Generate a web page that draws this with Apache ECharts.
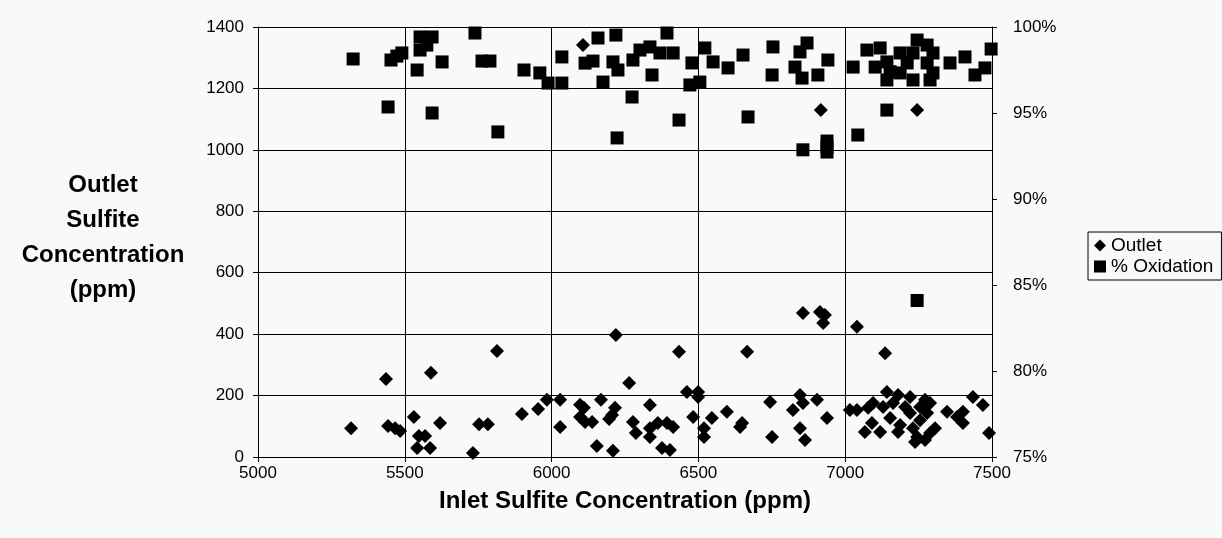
<!DOCTYPE html>
<html>
<head>
<meta charset="utf-8">
<script src="https://cdn.jsdelivr.net/npm/echarts@6/dist/echarts.min.js"></script>
<style>
  html, body { margin: 0; padding: 0; background: #f9f9f9; }
  #chart { width: 1222px; height: 538px; }
</style>
</head>
<body>
<div id="chart"></div>
<script>
// Outlet sulfite (ppm) vs inlet sulfite (ppm)
var outletInlet = [5317,5436,5443,5467,5484,5531,5548,5569,5542,5586,5589,5620,5732,5753,5783,5814,5899,5954,5984,6029,
    6029,6097,6110,6097,6114,6138,6168,6154,6209,6216,6206,6196,6219,6264,6277,6287,6335,6335,6335,6362,
    6393,6414,6376,6403,6434,6461,6499,6499,6482,6546,6519,6519,6597,6649,6642,6666,6744,6751,6846,6856,
    6822,6846,6863,6856,6914,6931,6925,6904,6938,7016,7040,7040,7136,7078,7095,7142,7180,7221,7272,7129,
    7163,7204,7255,7289,7091,7067,7119,7153,7187,7180,7221,7255,7279,7231,7245,7272,7238,7289,7306,7347,
    7381,7401,7401,7435,7469,7490,6107,6917,7245];
var outletPpm = [94,254,101,94,85,130,68,68,29,29,274,111,13,107,107,345,140,156,186,186,
    98,170,160,130,114,114,186,36,20,160,137,124,397,241,114,78,169,94,65,111,
    111,98,29,23,343,212,212,195,130,127,94,65,147,111,98,343,179,65,202,176,
    153,94,55,469,472,462,436,186,127,153,153,424,338,160,176,212,202,195,186,163,
    176,163,163,176,111,81,81,127,104,81,143,120,143,94,65,55,49,78,94,147,
    130,147,111,195,169,78,1341,1130,1130];

// % oxidation (secondary axis) vs inlet sulfite (ppm)
var oxidInlet = [5324,5453,5473,5490,5552,5593,5552,5575,5542,5627,5739,5763,5790,5906,5960,5988,6035,6035,6158,6219,
    6114,6141,6209,6226,6175,6277,5443,5593,5817,6223,6274,6393,6301,6335,6369,6414,6342,6478,6522,6550,
    6471,6505,6601,6652,6754,6751,6870,6846,6829,6853,6907,6941,6434,6669,6856,6938,6938,6938,7043,7142,
    7245,7027,7074,7119,7102,7142,7142,7187,7187,7231,7245,7279,7231,7299,7279,7299,7289,7211,7357,7408,
    7442,7476,7497,7153];
var oxidPct = [98.14,98.08,98.31,98.49,99.42,99.42,98.66,98.95,97.5,97.97,99.65,98.02,98.02,97.5,97.33,96.74,96.74,98.26,99.36,99.53,
    97.9,98.02,97.97,97.5,96.8,98.08,95.35,95.0,93.9,93.55,95.93,99.65,98.66,98.84,98.49,98.49,97.21,97.91,98.78,97.97,
    96.63,96.8,97.62,98.37,98.84,97.21,99.07,98.55,97.67,97.03,97.21,98.08,94.59,94.77,92.86,93.37,93.02,92.73,93.72,95.17,
    84.1,97.67,98.66,98.78,97.67,97.97,96.92,98.49,97.33,96.92,99.24,98.95,98.49,98.49,97.91,97.33,96.92,97.91,97.91,98.26,
    97.21,97.62,98.72,97.4];

function zip(a, b) {
    var out = [];
    for (var i = 0; i < a.length; i++) out.push([a[i], b[i]]);
    return out;
}

var chart = echarts.init(document.getElementById('chart'));
var lineStyle = { color: '#000', width: 1 };
var tickFont = { color: '#000', fontFamily: 'Arial, "Liberation Sans"', fontSize: 17 };
var plainNum = function (v) { return String(v); };

var option = {
    backgroundColor: '#f9f9f9',
    animation: false,
    grid: { left: 258, right: 230, top: 27, bottom: 81 },
    legend: {
        orient: 'vertical',
        left: 1088,
        top: 232,
        itemWidth: 12,
        itemHeight: 12,
        itemGap: 2,
        padding: [4, 8, 4, 6],
        borderColor: '#000',
        borderWidth: 1,
        textStyle: { color: '#000', fontFamily: 'Arial, "Liberation Sans"', fontSize: 19 },
        data: [
            { name: 'Outlet', icon: 'diamond' },
            { name: '% Oxidation', icon: 'rect' }
        ]
    },
    graphic: [{
        type: 'text',
        x: 103,
        y: 168,
        style: {
            text: 'Outlet\nSulfite\nConcentration\n(ppm)',
            textAlign: 'center',
            verticalAlign: 'top',
            font: 'bold 24px Arial, "Liberation Sans"',
            lineHeight: 35,
            fill: '#000'
        }
    }],
    xAxis: {
        type: 'value',
        min: 5000,
        max: 7500,
        interval: 500,
        name: 'Inlet Sulfite Concentration (ppm)',
        nameLocation: 'middle',
        nameGap: 32,
        nameTextStyle: { color: '#000', fontFamily: 'Arial, "Liberation Sans"', fontSize: 24, fontWeight: 'bold' },
        axisLine: { lineStyle: lineStyle },
        axisTick: { show: true, length: 5, lineStyle: lineStyle },
        axisLabel: Object.assign({ margin: 8, formatter: plainNum }, tickFont),
        splitLine: { show: true, lineStyle: lineStyle }
    },
    yAxis: [{
        type: 'value',
        min: 0,
        max: 1400,
        interval: 200,
        axisLine: { show: true, lineStyle: lineStyle },
        axisTick: { show: true, length: 5, lineStyle: lineStyle },
        axisLabel: Object.assign({ margin: 14, formatter: plainNum }, tickFont),
        splitLine: { show: true, lineStyle: lineStyle }
    }, {
        type: 'value',
        position: 'right',
        min: 75,
        max: 100,
        interval: 5,
        axisLine: { show: true, lineStyle: lineStyle },
        axisTick: { show: true, length: 5, lineStyle: lineStyle },
        axisLabel: Object.assign({ margin: 21, formatter: '{value}%' }, tickFont),
        splitLine: { show: false }
    }],
    series: [{
        name: 'Outlet',
        type: 'scatter',
        yAxisIndex: 0,
        symbol: 'diamond',
        symbolSize: 14,
        itemStyle: { color: '#000', opacity: 1 },
        data: zip(outletInlet, outletPpm)
    }, {
        name: '% Oxidation',
        type: 'scatter',
        yAxisIndex: 1,
        symbol: 'rect',
        symbolSize: 13,
        itemStyle: { color: '#000', opacity: 1 },
        data: zip(oxidInlet, oxidPct)
    }]
};

chart.setOption(option);
</script>
</body>
</html>
